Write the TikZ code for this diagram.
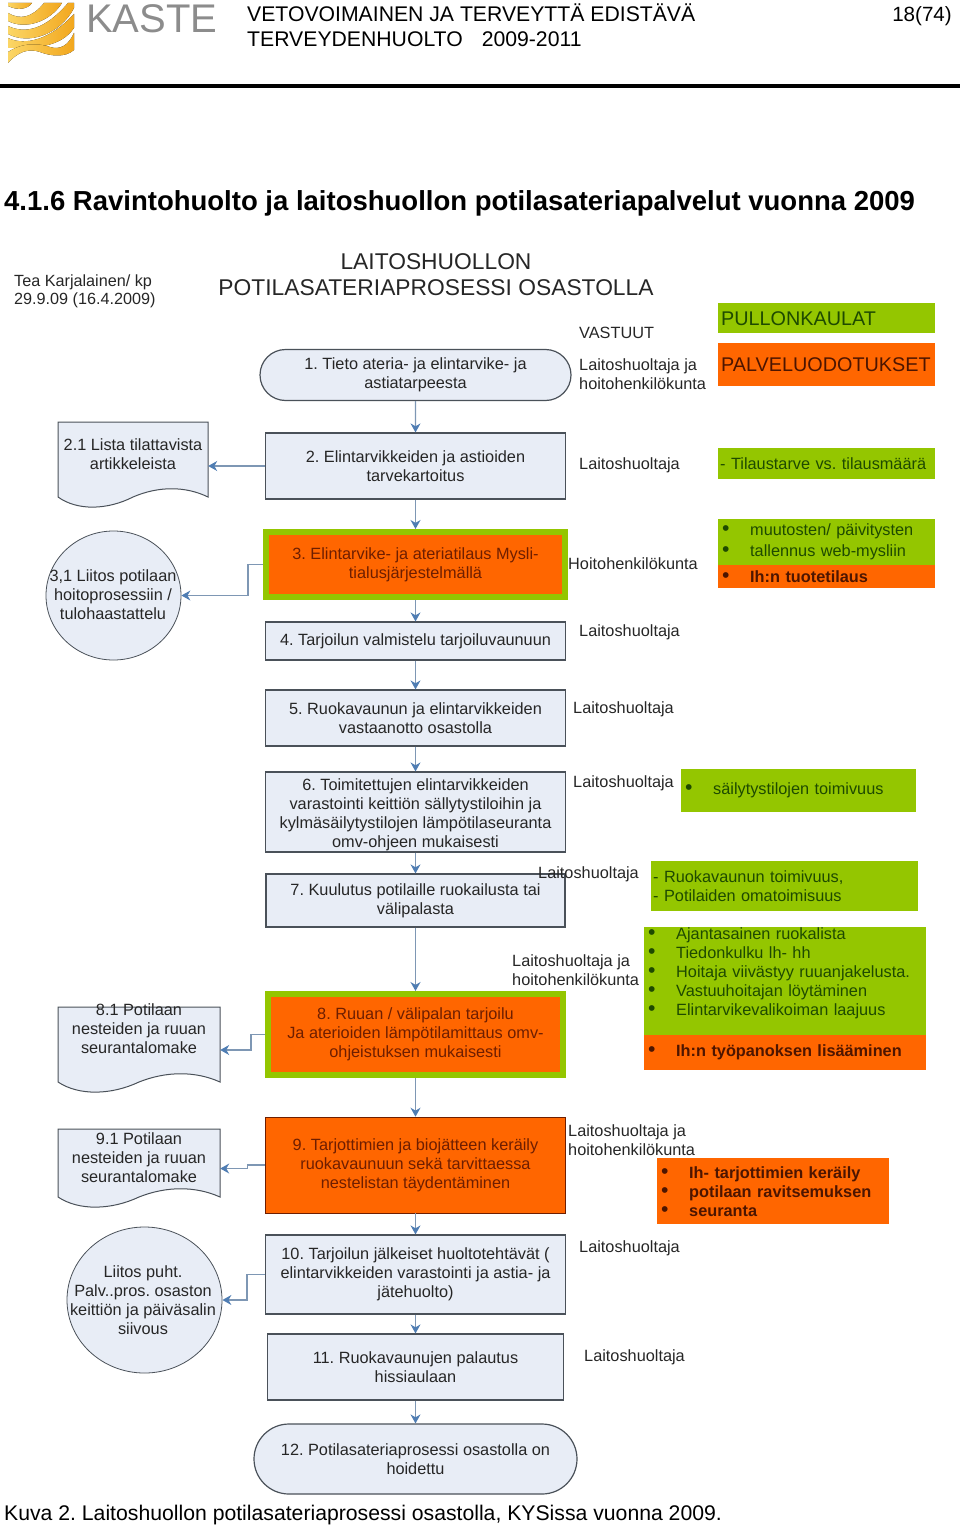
\documentclass[tikz,border=0pt]{standalone}
\usepackage{fontspec}
\setmainfont{Liberation Sans}
\usetikzlibrary{arrows.meta,shapes.misc,shapes.geometric}
\frenchspacing

\definecolor{boxfill}{HTML}{E8EDF6}
\definecolor{boxline}{HTML}{4A5159}
\definecolor{flowline}{HTML}{7E97B4}
\definecolor{flowhead}{HTML}{4F7DB3}
\definecolor{markgreen}{HTML}{94C600}
\definecolor{markorange}{HTML}{FF6600}
\definecolor{inkgray}{HTML}{262626}
\definecolor{inkgreen}{HTML}{1E4A00}
\definecolor{inkred}{HTML}{6E1E00}
\definecolor{waveyellow}{HTML}{FBD666}
\definecolor{waveorange}{HTML}{F2A71E}

\newcommand{\docnode}[5]{
    \draw[docline] (#2,#3) -- (#4,#3) -- (#4,#5-11)
        .. controls ({#4-0.15*(#4-#2)},#5-22) and ({#4-0.33*(#4-#2)},#5-22) .. ({(#2+#4)/2},#5-11)
        .. controls ({#2+0.33*(#4-#2)},#5+2) and ({#2+0.13*(#4-#2)},#5+3) .. (#2,#5-11) -- cycle;
    \node[draw=none, minimum width=#4-#2, minimum height=#5-#3, inner sep=0pt] (#1) at ({(#2+#4)/2},{(#3+#5)/2}) {};
}
\newcommand{\bulletrow}[1]{\makebox[29pt][l]{\hspace{1pt}\scalebox{1.3}{\textbullet}}#1}

\begin{document}
\begin{tikzpicture}[
                >={Stealth[length=9pt,width=10pt,color=flowhead]},
                x=1pt,
                y=-1pt,
                bodytext/.style={font=\fontsize{16.3}{19}\selectfont, text=inkgray, inner sep=0pt},
                stepbox/.style={bodytext, draw=boxline, fill=boxfill, line width=1.2pt, align=center},
                endbox/.style={stepbox, rounded rectangle},
                hotbox/.style={stepbox, draw=markgreen, fill=markorange, line width=6pt, text=inkred},
                redbox/.style={stepbox, draw=inkred, line width=.6pt, fill=markorange, text=inkred},
                ballbox/.style={draw=boxline, fill=boxfill, line width=.8pt, ellipse, inner sep=0pt},
                docline/.style={draw=boxline, fill=boxfill, line width=1pt},
                doctext/.style={bodytext, align=center},
                roletext/.style={bodytext, anchor=west, align=left},
                flow/.style={->, draw=flowline, line width=1.2pt},
                notebox/.style={bodytext, anchor=north west, fill=markgreen, text=inkgreen, align=left, inner xsep=3pt},
                alertbox/.style={notebox, fill=markorange, text=inkred!70!black},
                wave/.style={left color=waveyellow, right color=waveorange}
            ]

            \useasboundingbox (0,0) rectangle (960,1525);

            \fill[wave] (8,3) -- (32,3) .. controls (28,9) and (18,11) .. (8,6) -- cycle;
            \fill[wave] (8,13) .. controls (20,20) and (32,18) .. (44,3) -- (62,3) .. controls (50,22) and (25,30) .. (8,21) -- cycle;
            \fill[wave] (8,26) .. controls (25,34) and (45,30) .. (68,3) -- (74,3) -- (74,8) .. controls (60,35) and (28,45) .. (8,34) -- cycle;
            \fill[wave] (8,38) .. controls (25,46) and (50,40) .. (74,14) -- (74,28) .. controls (60,48) and (35,48) .. (8,48) -- cycle;
            \fill[wave] (8,52) .. controls (20,44) and (35,42) .. (50,47) .. controls (60,50) and (68,46) .. (74,33) -- (74,50) .. controls (65,58) and (50,56) .. (40,52) .. controls (28,48) and (18,52) .. (8,63) -- cycle;
            \node[anchor=base west, inner sep=0pt, text=gray!90, font=\fontsize{40}{40}\selectfont] (logotext) at (86,33) {KASTE};

            \node[anchor=base west, inner sep=0pt, font=\fontsize{21.2}{25}\selectfont] (header1) at (247,22) {VETOVOIMAINEN JA TERVEYTTÄ EDISTÄVÄ};
            \node[anchor=base west, inner sep=0pt, font=\fontsize{21.2}{25}\selectfont] (header2) at (247,47) {TERVEYDENHUOLTO\hspace{19pt}2009-2011};
            \node[anchor=base east, inner sep=0pt, font=\fontsize{20.6}{25}\selectfont] (pagenum) at (952,22) {18(74)};
            \draw[line width=3.4pt] (0,86) -- (960,86);

            \node[anchor=base west, inner sep=0pt, font=\bfseries\fontsize{27.5}{32}\selectfont] (title) at (4,211) {4.1.6 Ravintohuolto ja laitoshuollon potilasateriapalvelut vuonna 2009};
            \node[anchor=base west, inner sep=0pt, font=\fontsize{21.2}{25}\selectfont] (caption) at (4,1520) {Kuva 2. Laitoshuollon potilasateriaprosessi osastolla, KYSissa vuonna 2009.};

            \node[roletext, font=\fontsize{16.2}{18}\selectfont] (author) at (14,291) {Tea Karjalainen/ kp\\29.9.09 (16.4.2009)};
            \node[bodytext, align=center, font=\fontsize{22.8}{26}\selectfont] (charttitle) at (436,275) {LAITOSHUOLLON\\POTILASATERIAPROSESSI OSASTOLLA};
            \node[roletext] (vastuut) at (579,333) {VASTUUT};

            \node[endbox, minimum width=311pt, minimum height=51pt] (step1) at (415.5,375) {1. Tieto ateria- ja elintarvike- ja\\astiatarpeesta};
            \node[stepbox, minimum width=300pt, minimum height=66pt] (step2) at (415.5,466) {2. Elintarvikkeiden ja astioiden\\tarvekartoitus};
            \node[hotbox, minimum width=299pt, minimum height=65pt] (step3) at (415.5,564.5) {3. Elintarvike-  ja ateriatilaus Mysli-\\tialusjärjestelmällä};
            \node[stepbox, minimum width=300pt, minimum height=38pt] (step4) at (415.5,641) {4. Tarjoilun valmistelu tarjoiluvaunuun};
            \node[stepbox, minimum width=300pt, minimum height=56pt] (step5) at (415.5,718) {5. Ruokavaunun ja elintarvikkeiden\\vastaanotto osastolla};
            \node[stepbox, minimum width=300pt, minimum height=80pt] (step6) at (415.5,812) {\rule{0pt}{17pt}6. Toimitettujen elintarvikkeiden\\varastointi keittiön sällytystiloihin  ja\\kylmäsäilytystilojen lämpötilaseuranta\\omv-ohjeen mukaisesti};
            \node[stepbox, minimum width=299pt, minimum height=53pt] (step7) at (415.5,900.5) {7. Kuulutus potilaille ruokailusta tai\\välipalasta};
            \node[hotbox, minimum width=295pt, minimum height=81pt] (step8) at (415.5,1034.5) {8. Ruuan / välipalan tarjoilu\\Ja aterioiden lämpötilamittaus omv-\\ohjeistuksen mukaisesti};
            \node[redbox, minimum width=300pt, minimum height=96pt] (step9) at (415.5,1165) {9. Tarjottimien ja biojätteen keräily\\ruokavaunuun sekä tarvittaessa\\nestelistan täydentäminen};
            \node[stepbox, minimum width=300pt, minimum height=79pt] (step10) at (415.5,1274.5) {10. Tarjoilun jälkeiset huoltotehtävät (\\elintarvikkeiden varastointi ja astia- ja\\jätehuolto)};
            \node[stepbox, minimum width=296pt, minimum height=66pt] (step11) at (415.5,1367) {11. Ruokavaunujen palautus\\hissiaulaan};
            \node[endbox, minimum width=323pt, minimum height=70pt] (step12) at (415.5,1459) {12. Potilasateriaprosessi osastolla on\\hoidettu};

            \docnode{doc21}{58}{422}{208}{508}
            \node[doctext] (doc21text) at (133,454) {2.1 Lista tilattavista\\artikkeleista};
            \docnode{doc81}{58}{1007}{220}{1093}
            \node[doctext] (doc81text) at (139,1029) {8.1 Potilaan\\nesteiden ja ruuan\\seurantalomake};
            \docnode{doc91}{58}{1129}{220}{1208}
            \node[doctext] (doc91text) at (139,1158) {9.1 Potilaan\\nesteiden ja ruuan\\seurantalomake};

            \node[ballbox, minimum width=135pt, minimum height=129pt] (ball31) at (113.5,595.5) {};
            \node[doctext] (ball31text) at (113,595) {3,1 Liitos potilaan\\hoitoprosessiin /\\tulohaastattelu};
            \node[ballbox, minimum width=155pt, minimum height=146pt] (ball101) at (144.5,1300) {};
            \node[doctext] (ball101text) at (143,1300) {Liitos puht.\\Palv..pros. osaston\\keittiön ja päiväsalin\\siivous};

            \draw[flow] (step1) -- (step2);
            \draw[flow] (step2) -- (step3);
            \draw[flow] (step3) -- (step4);
            \draw[flow] (step4) -- (step5);
            \draw[flow] (step5) -- (step6);
            \draw[flow] (step6) -- (step7);
            \draw[flow] (step7) -- (step8);
            \draw[flow] (step8) -- (step9);
            \draw[flow] (step9) -- (step10);
            \draw[flow] (step10) -- (step11);
            \draw[flow] (step11) -- (step12);

            \draw[flow] (step2.west) -- (step2.west -| doc21.east);
            \draw[flow] (step3.west) -- ++(-15,0) |- (ball31.east);
            \draw[flow] (step8.west) -- ++(-14,0) |- (doc81.east);
            \draw[flow] (step9.west) -- ++(-18,0) |- (doc91.east);
            \draw[flow] (step10.west) -- ++(-18,0) |- (ball101.east);

            \node[roletext] (role1) at (579,374) {Laitoshuoltaja ja\\hoitohenkilökunta};
            \node[roletext] (role2) at (579,465.5) {Laitoshuoltaja};
            \node[roletext] (role3) at (568,564) {Hoitohenkilökunta};
            \node[roletext] (role4) at (579,632.5) {Laitoshuoltaja};
            \node[roletext] (role5) at (573,709.5) {Laitoshuoltaja};
            \node[roletext] (role6) at (573,783.5) {Laitoshuoltaja};
            \node[roletext] (role7) at (538,874.5) {Laitoshuoltaja};
            \node[roletext] (role8) at (512,970) {Laitoshuoltaja ja\\hoitohenkilökunta};
            \node[roletext] (role9) at (568,1140) {Laitoshuoltaja ja\\hoitohenkilökunta};
            \node[roletext] (role10) at (579,1248) {Laitoshuoltaja};
            \node[roletext] (role11) at (584,1357.5) {Laitoshuoltaja};

            \node[notebox, minimum width=217pt, minimum height=30pt, text width=211pt, font=\fontsize{19.8}{22}\selectfont] (legend1) at (718,303) {PULLONKAULAT};
            \node[alertbox, minimum width=217pt, minimum height=43pt, text width=211pt, font=\fontsize{19.8}{22}\selectfont] (legend2) at (718,343) {PALVELUODOTUKSET};
            \node[notebox, minimum width=217pt, minimum height=31pt, text width=213pt, inner xsep=2pt] (note2) at (718,448) {- Tilaustarve vs. tilausmäärä};
            \node[notebox, minimum width=217pt, minimum height=46pt, text width=211pt] (note3a) at (718,519) {\bulletrow{muutosten/ päivitysten}\\[2pt]\bulletrow{tallennus web-mysliin}};
            \node[alertbox, minimum width=217pt, minimum height=23pt, text width=211pt] (note3b) at (718,565) {\bulletrow{\textbf{Ih:n tuotetilaus}}};
            \node[notebox, minimum width=235pt, minimum height=43pt, text width=229pt] (note6) at (681,769) {\bulletrow{säilytystilojen toimivuus}};
            \node[notebox, minimum width=267pt, minimum height=50pt, text width=263pt, inner xsep=2pt] (note7) at (651,861) {- Ruokavaunun toimivuus,\\- Potilaiden omatoimisuus};
            \node[notebox, minimum width=282pt, minimum height=108pt, text width=276pt] (note8a) at (644,927) {\bulletrow{Ajantasainen ruokalista}\\\bulletrow{Tiedonkulku lh- hh}\\\bulletrow{Hoitaja viivästyy ruuanjakelusta.}\\\bulletrow{Vastuuhoitajan löytäminen}\\\bulletrow{Elintarvikevalikoiman laajuus}\\\mbox{}};
            \node[alertbox, minimum width=282pt, minimum height=35pt, text width=276pt] (note8b) at (644,1035) {\bulletrow{\textbf{Ih:n työpanoksen lisääminen}}};
            \node[alertbox, minimum width=232pt, minimum height=66pt, text width=226pt] (note9) at (657,1158) {\bulletrow{\textbf{Ih- tarjottimien keräily}}\\\bulletrow{\textbf{potilaan ravitsemuksen}}\\\bulletrow{\textbf{seuranta}}};

            \end{tikzpicture}
\end{document}
